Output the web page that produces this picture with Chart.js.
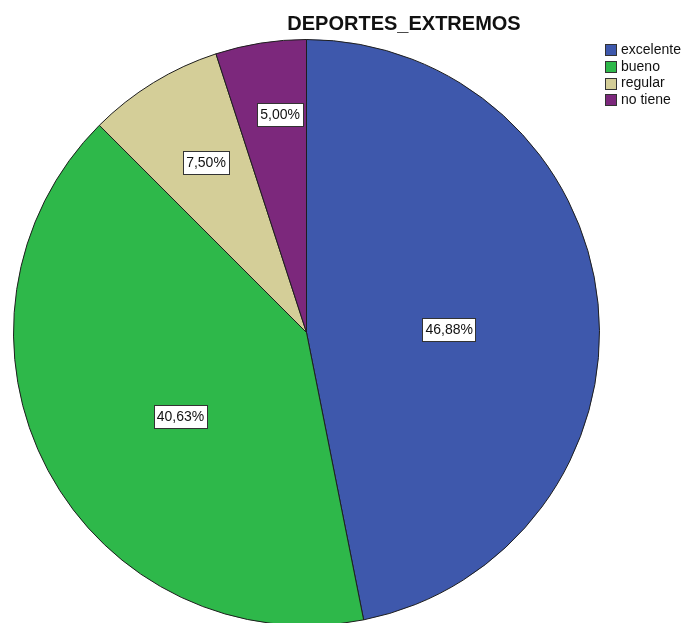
<!DOCTYPE html>
<html>
<head>
<meta charset="utf-8">
<script src="https://cdn.jsdelivr.net/npm/chart.js@4.4.1/dist/chart.umd.min.js"></script>
<style>
  html, body { margin: 0; padding: 0; background: #ffffff; overflow: hidden; }
  #wrap { width: 683px; height: 630px; position: relative; }
</style>
</head>
<body>
<div id="wrap"><canvas id="c" width="683" height="630"></canvas></div>
<script>
const chartTitle = "DEPORTES_EXTREMOS";
const categories = ["excelente", "bueno", "regular", "no tiene"];
const percentValues = [46.88, 40.63, 7.50, 5.00];
const sliceColors = ["#3e58ac", "#2eb84a", "#d4ce98", "#7c287c"];

const FONT = "'Liberation Sans', Arial, sans-serif";

function fmtPct(v) {
  return v.toFixed(2).replace(".", ",") + "%";
}

const overlayPlugin = {
  id: "overlay",
  afterDraw(chart, args, opts) {
    const ctx = chart.ctx;
    const meta = chart.getDatasetMeta(0);
    // slice value labels
    ctx.save();
    ctx.font = "14px " + FONT;
    ctx.textAlign = "center";
    ctx.textBaseline = "middle";
    meta.data.forEach((arc, i) => {
      const p = arc.getProps(["x", "y", "startAngle", "endAngle", "outerRadius"], true);
      const pos = opts.labelPos[i];
      const mid = (p.startAngle + p.endAngle) / 2 + pos.da * Math.PI / 180;
      const r = p.outerRadius * pos.f;
      const cx = p.x + Math.cos(mid) * r;
      const cy = p.y + Math.sin(mid) * r;
      const txt = fmtPct(chart.data.datasets[0].data[i]);
      const w = ctx.measureText(txt).width + 6;
      const h = 23;
      ctx.fillStyle = "#ffffff";
      ctx.fillRect(Math.round(cx - w / 2) + 0.5, Math.round(cy - h / 2) + 0.5, Math.round(w), h);
      ctx.strokeStyle = "#333333";
      ctx.lineWidth = 1;
      ctx.strokeRect(Math.round(cx - w / 2) + 0.5, Math.round(cy - h / 2) + 0.5, Math.round(w), h);
      ctx.fillStyle = "#111111";
      ctx.fillText(txt, cx, cy + 1);
    });
    ctx.restore();

    // title
    ctx.save();
    ctx.font = "bold 20px " + FONT;
    ctx.fillStyle = "#111111";
    ctx.textAlign = "center";
    ctx.textBaseline = "middle";
    ctx.fillText(chartTitle, 404, 24);
    ctx.restore();

    // legend
    ctx.save();
    ctx.font = "14px " + FONT;
    ctx.textAlign = "left";
    ctx.textBaseline = "middle";
    const ds = chart.data.datasets[0];
    chart.data.labels.forEach((lab, i) => {
      const y = 50 + i * 16.8;
      ctx.fillStyle = ds.backgroundColor[i];
      ctx.fillRect(605.5, Math.round(y - 6) + 0.5, 11, 11);
      ctx.strokeStyle = "#333333";
      ctx.lineWidth = 1;
      ctx.strokeRect(605.5, Math.round(y - 6) + 0.5, 11, 11);
      ctx.fillStyle = "#111111";
      ctx.fillText(lab, 621, y);
    });
    ctx.restore();
  }
};

new Chart(document.getElementById("c"), {
  type: "pie",
  data: {
    labels: categories,
    datasets: [{
      data: percentValues,
      backgroundColor: sliceColors,
      borderColor: "#1e1e1e",
      borderWidth: 1
    }]
  },
  options: {
    responsive: false,
    animation: false,
    layout: { padding: { left: 13, right: 83, top: 39, bottom: 4 } },
    plugins: {
      legend: { display: false },
      tooltip: { enabled: false },
      title: { display: false },
      overlay: {
        labelPos: [
          { f: 0.487, da: 4.4 },
          { f: 0.517, da: -5.6 },
          { f: 0.674, da: 0.9 },
          { f: 0.75, da: 2.1 }
        ]
      }
    }
  },
  plugins: [overlayPlugin]
});
</script>
</body>
</html>
